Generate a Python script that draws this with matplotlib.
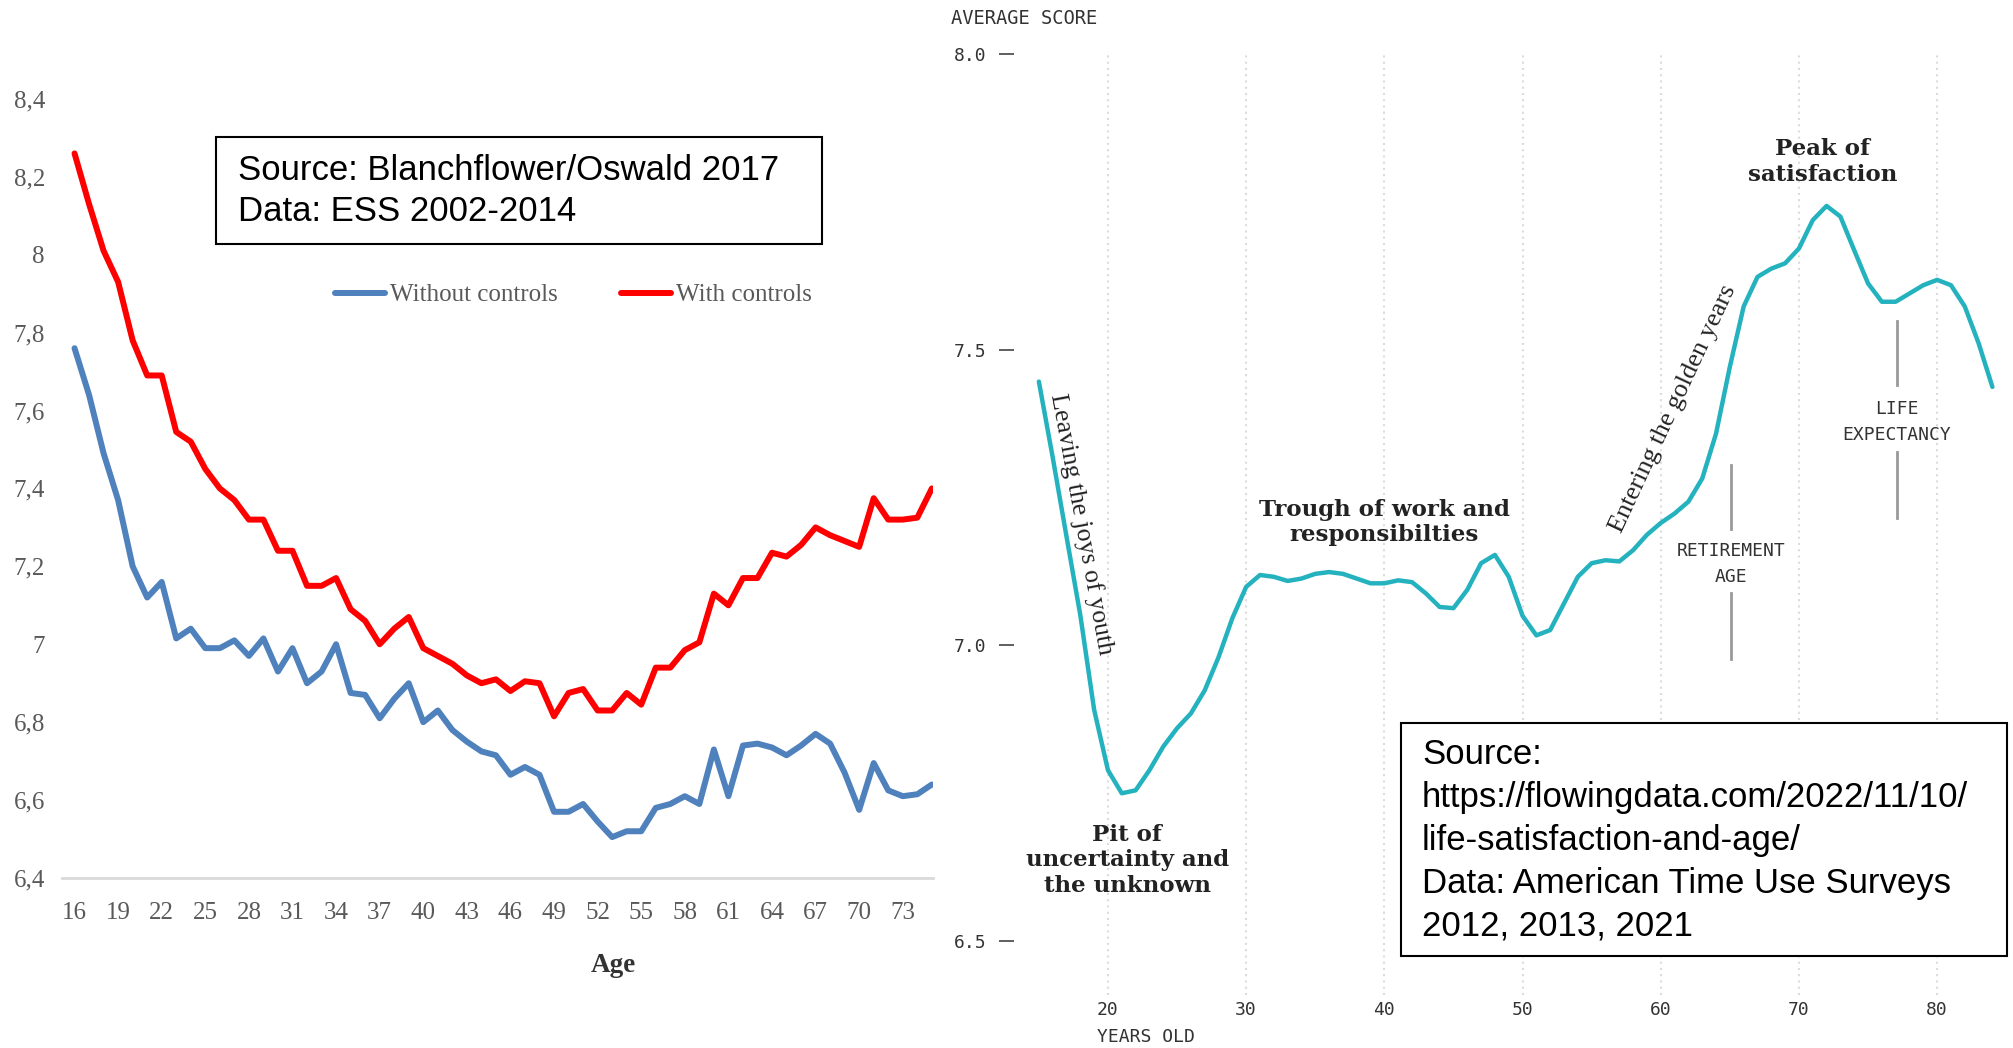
import matplotlib.pyplot as plt
import numpy as np
from matplotlib.patches import Rectangle

# left panel: Blanchflower/Oswald, ESS 2002-2014
ages_left = np.arange(16, 76)
without_controls = [7.76, 7.64, 7.49, 7.37, 7.20, 7.12, 7.16, 7.015, 7.04, 6.99,
                    6.99, 7.01, 6.97, 7.015, 6.93, 6.99, 6.90, 6.93, 7.00, 6.875,
                    6.87, 6.81, 6.86, 6.90, 6.80, 6.83, 6.78, 6.75, 6.725, 6.715,
                    6.665, 6.685, 6.665, 6.57, 6.57, 6.59, 6.545, 6.505, 6.52, 6.52,
                    6.58, 6.59, 6.61, 6.59, 6.73, 6.61, 6.74, 6.745, 6.735, 6.715,
                    6.74, 6.77, 6.745, 6.67, 6.575, 6.695, 6.625, 6.61, 6.615, 6.64]
with_controls = [8.26, 8.13, 8.01, 7.93, 7.78, 7.69, 7.69, 7.545, 7.52, 7.45,
                 7.40, 7.37, 7.32, 7.32, 7.24, 7.24, 7.15, 7.15, 7.17, 7.09,
                 7.06, 7.00, 7.04, 7.07, 6.99, 6.97, 6.95, 6.92, 6.90, 6.91,
                 6.88, 6.905, 6.90, 6.815, 6.875, 6.885, 6.83, 6.83, 6.875, 6.845,
                 6.94, 6.94, 6.985, 7.005, 7.13, 7.10, 7.17, 7.17, 7.235, 7.225,
                 7.255, 7.30, 7.28, 7.265, 7.25, 7.375, 7.32, 7.32, 7.325, 7.40]
left_yticks = [6.4, 6.6, 6.8, 7.0, 7.2, 7.4, 7.6, 7.8, 8.0, 8.2, 8.4]
left_xticks = list(range(16, 74, 3))

# right panel: flowingdata, ATUS
ages_right = np.arange(15, 85)
avg_score = [7.446, 7.318, 7.184, 7.051, 6.891, 6.789, 6.750, 6.755, 6.789, 6.829,
             6.860, 6.885, 6.924, 6.980, 7.046, 7.099, 7.119, 7.116, 7.109, 7.113,
             7.121, 7.124, 7.121, 7.113, 7.105, 7.105, 7.110, 7.107, 7.088, 7.065,
             7.063, 7.094, 7.139, 7.153, 7.116, 7.050, 7.017, 7.026, 7.071, 7.116,
             7.139, 7.144, 7.142, 7.161, 7.187, 7.207, 7.223, 7.243, 7.282, 7.358,
             7.471, 7.573, 7.623, 7.637, 7.646, 7.671, 7.719, 7.743, 7.725, 7.668,
             7.612, 7.581, 7.581, 7.595, 7.609, 7.618, 7.609, 7.573, 7.511, 7.437]
right_yticks = [6.5, 7.0, 7.5, 8.0]
right_xticks = [20, 30, 40, 50, 60, 70, 80]
retirement_age = 65.1
retirement_marks = [(7.305, 7.197), (7.089, 6.977)]
life_expectancy = 77.1
life_marks = [(7.548, 7.44), (7.327, 7.216)]

W, H = 2013, 1048
fig = plt.figure(figsize=(W / 100, H / 100), dpi=100)
fig.patch.set_facecolor('white')

GRAY = '#595959'
serif = 'Liberation Serif'

# ---------- left chart ----------
ax1 = fig.add_axes([61.6 / W, 1 - 878 / H, 871.4 / W, (878 - 79.4) / H])
ax1.plot(ages_left, without_controls, color='#4f81bd', lw=4.3, solid_joinstyle='round',
         solid_capstyle='round', label='Without controls')
ax1.plot(ages_left, with_controls, color='#ff0000', lw=4.3, solid_joinstyle='round',
         solid_capstyle='round', label='With controls')
ax1.set_xlim(15.11, 75.08)
ax1.set_ylim(6.4, 8.45)
for s in ['top', 'right', 'left']:
    ax1.spines[s].set_visible(False)
ax1.spines['bottom'].set_color('#d9d9d9')
ax1.spines['bottom'].set_linewidth(2)
ax1.set_yticks(left_yticks)
ax1.set_yticklabels([f'{v:.1f}'.replace('.', ',').replace(',0', '') for v in left_yticks])
ax1.set_xticks(left_xticks)
ax1.set_xticklabels([str(a) for a in left_xticks])
ax1.tick_params(axis='y', length=0, pad=12, labelsize=18, labelcolor=GRAY)
ax1.tick_params(axis='x', length=0, pad=17, labelsize=18, labelcolor=GRAY)
for lab in ax1.get_xticklabels() + ax1.get_yticklabels():
    lab.set_fontfamily(serif)
fig.text(613.6 / W, 1 - 965 / H, 'Age', ha='center', va='center', fontsize=19.5,
         fontweight='bold', family=serif, color='#333333')
ax1.legend(ncol=2, frameon=False, loc='center',
           bbox_to_anchor=(573.5 / W, 1 - 295 / H), bbox_transform=fig.transFigure,
           prop={'family': serif, 'size': 18}, labelcolor=GRAY,
           handlelength=2.0, handletextpad=0.2, columnspacing=2.5)

fig.add_artist(Rectangle((215.7 / W, 1 - 243.9 / H), (821.6 - 215.7) / W, (243.9 - 137.4) / H,
                         transform=fig.transFigure, fill=False, edgecolor='black', lw=1.5))
for i, line in enumerate(['Source: Blanchflower/Oswald 2017', 'Data: ESS 2002-2014']):
    fig.text(237.5 / W, 1 - (170.7 + 41 * i) / H, line, ha='left', va='center',
             fontsize=25, family='Liberation Sans', color='black')

# ---------- right chart ----------
ax2 = fig.add_axes([1014 / W, 1 - 995 / H, (W - 1014) / W, (995 - 50) / H])
ax2.set_xlim(13.2, 85.49)
ax2.set_ylim(6.409, 8.0066)
for s in ax2.spines.values():
    s.set_visible(False)
ax2.vlines(right_xticks, 6.409, 8.0, colors='#dcdcdc', linestyles=(0, (1, 2)), lw=1.5)
ax2.plot(ages_right, avg_score, color='#24b2bf', lw=3.2, solid_joinstyle='round',
         solid_capstyle='round')
ax2.set_yticks(right_yticks)
ax2.set_yticklabels([f'{v:.1f}' for v in right_yticks])
ax2.set_xticks(right_xticks)
ax2.set_xticklabels([str(a) for a in right_xticks])
ax2.tick_params(axis='y', length=11, width=1.2, color='#444444', pad=9,
                labelsize=13, labelcolor='#333333')
ax2.tick_params(axis='x', length=0, pad=4, labelsize=13, labelcolor='#333333')
for lab in ax2.get_xticklabels() + ax2.get_yticklabels():
    lab.set_fontfamily('DejaVu Sans Mono')

mono = dict(family='DejaVu Sans Mono', color='#333333', fontsize=13)
fig.text(951 / W, 1 - 18 / H, 'AVERAGE SCORE', ha='left', va='center',
         **{**mono, 'fontsize': 13.5})
fig.text(1097 / W, 1 - 1037 / H, 'YEARS OLD', ha='left', va='center', **mono)

bold = dict(family='DejaVu Serif', fontweight='bold', color='#222222', fontsize=16.5,
            ha='center', va='center', linespacing=1.2)
ax2.text(21.4, 6.637, 'Pit of\nuncertainty and\nthe unknown', **bold)
ax2.text(40.0, 7.208, 'Trough of work and\nresponsibilties', **bold)
ax2.text(71.7, 7.817, 'Peak of\nsatisfaction', **bold)

ax2.text(18.1, 7.2055, 'Leaving the joys of youth', rotation=-79.5, rotation_mode='anchor',
         ha='center', va='center', family=serif, fontsize=18.5, color='#222222')
ax2.text(60.9, 7.40, 'Entering the golden years', rotation=65, rotation_mode='anchor',
         ha='center', va='center', family=serif, fontsize=19, color='#222222')

ax2.text(retirement_age, 7.1375, 'RETIREMENT\nAGE', ha='center', va='center',
         linespacing=1.6, **mono)
ax2.text(life_expectancy, 7.378, 'LIFE\nEXPECTANCY', ha='center', va='center',
         linespacing=1.6, **mono)
for y0, y1 in retirement_marks:
    ax2.plot([retirement_age, retirement_age], [y0, y1], color='#999999', lw=2)
for y0, y1 in life_marks:
    ax2.plot([life_expectancy, life_expectancy], [y0, y1], color='#999999', lw=2)

fig.add_artist(Rectangle((1400.6 / W, 1 - 956.4 / H), (2006.6 - 1400.6) / W, (956.4 - 722.8) / H,
                         transform=fig.transFigure, fill=True, facecolor='white',
                         edgecolor='black', lw=1.5, zorder=5))
src_lines = ['Source:', 'https://flowingdata.com/2022/11/10/', 'life-satisfaction-and-age/',
             'Data: American Time Use Surveys', '2012, 2013, 2021']
for i, line in enumerate(src_lines):
    fig.text(1422 / W, 1 - (755 + 42.7 * i) / H, line, ha='left', va='center',
             fontsize=25, family='Liberation Sans', color='black', zorder=6)

fig.savefig('out.png', dpi=100, facecolor='white')
